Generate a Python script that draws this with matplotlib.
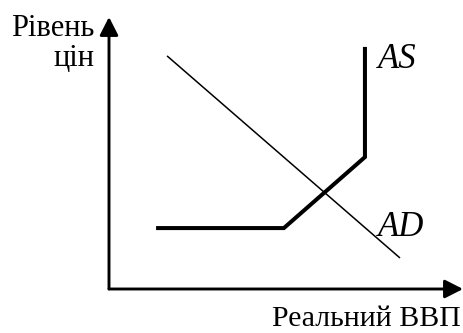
import matplotlib
matplotlib.use("Agg")
import matplotlib.pyplot as plt

# aggregate demand line (real GDP, price level)
ad_x = [1.64, 8.22]
ad_y = [8.57, 1.14]

# aggregate supply: horizontal, rising, vertical parts
as_x = [1.33, 4.94, 7.23, 7.23]
as_y = [2.24, 2.24, 4.85, 8.90]

y_label = ["Рівень", "цін"]
x_label = "Реальний ВВП"

plt.rcParams["font.family"] = ["Liberation Serif", "DejaVu Serif"]

fig = plt.figure(figsize=(4.63, 3.33), dpi=100)
ax = fig.add_axes([109/463, 44/333, 354/463, 272/333])
ax.set_xlim(0, 10)
ax.set_ylim(0, 10)
ax.axis("off")

ax.plot(ad_x, ad_y, color="black", lw=1.1, solid_capstyle="butt")
ax.plot(as_x, as_y, color="black", lw=2.9, solid_capstyle="butt", solid_joinstyle="miter")

# axes with arrows
arrow = dict(arrowstyle="-|>,head_length=0.55,head_width=0.28", mutation_scale=20,
             color="black", lw=2.1, shrinkA=0, shrinkB=0)
ax.annotate("", xy=(0, 10), xytext=(0, 0), arrowprops=arrow, annotation_clip=False)
ax.annotate("", xy=(10, 0), xytext=(0, 0), arrowprops=arrow, annotation_clip=False)

ax.text(7.6, 8.45, "AS", fontsize=25, style="italic", va="center", ha="left")
ax.text(7.6, 2.25, "AD", fontsize=25, style="italic", va="center", ha="left")

fig.text(94/463, 1 - 29/333, y_label[0], fontsize=22, ha="right", va="center")
fig.text(94/463, 1 - 58/333, y_label[1], fontsize=22, ha="right", va="center")
fig.text(461/463, 1 - 319/333, x_label, fontsize=21.5, ha="right", va="center")

fig.savefig("out.png", dpi=100)
